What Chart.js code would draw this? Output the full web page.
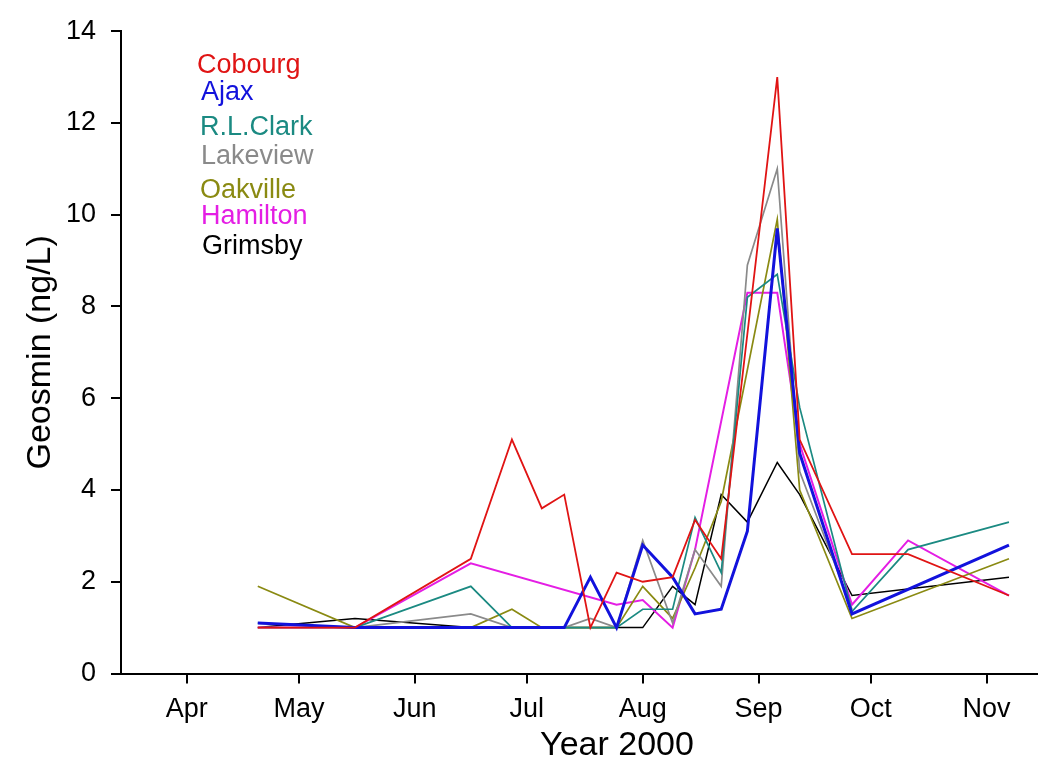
<!DOCTYPE html>
<html>
<head>
<meta charset="utf-8">
<script src="https://cdn.jsdelivr.net/npm/chart.js@4.4.1/dist/chart.umd.min.js"></script>
<style>
  html, body { margin: 0; padding: 0; background: #ffffff; }
  #wrap { width: 1051px; height: 765px; }
</style>
</head>
<body>
<div id="wrap"><canvas id="chart" width="1051" height="765"></canvas></div>
<script>
// Sampling dates (year 2000)
const sampleDates = [
  '2000-04-20', '2000-05-16', '2000-06-16', '2000-06-27', '2000-07-05', '2000-07-11',
  '2000-07-18', '2000-07-25', '2000-08-01', '2000-08-09', '2000-08-15', '2000-08-22',
  '2000-08-29', '2000-09-06', '2000-09-12', '2000-09-26', '2000-10-11', '2000-11-07'
];

// Month tick marks and their labels
const monthTickDates = ['2000-04-01', '2000-05-01', '2000-06-01', '2000-07-01',
                        '2000-08-01', '2000-09-01', '2000-10-01', '2000-11-01'];
const monthTickLabels = ['Apr', 'May', 'Jun', 'Jul', 'Aug', 'Sep', 'Oct', 'Nov'];

// Geosmin (ng/L) per treatment plant; null = not sampled on that date
const cobourg  = [1.0, 1.0, 2.5, 5.1, 3.6, 3.9, 1.0, 2.2, 2.0, 2.1, 3.35, 2.5, null, 13.0, 5.1, 2.6, 2.6, 1.7];
const ajax     = [1.1, 1.0, 1.0, 1.0, 1.0, 1.0, 2.1, 1.0, 2.8, 2.1, 1.3, 1.4, 3.1, 9.7, 4.8, 1.3, null, 2.8];
const rlClark  = [1.1, 1.0, 1.9, 1.0, 1.0, 1.0, 1.0, 1.0, 1.4, 1.4, 3.4, 2.2, 8.2, 8.7, 5.8, 1.35, 2.7, 3.3];
const lakeview = [1.0, 1.0, 1.3, 1.0, 1.0, 1.0, 1.2, 1.0, 2.9, 1.1, 2.7, 1.9, 8.9, 11.0, 4.4, 1.4, null, null];
const oakville = [1.9, 1.0, 1.0, 1.4, 1.0, 1.0, 1.0, 1.0, 1.9, 1.2, 2.3, 3.75, null, 9.9, 4.0, 1.2, null, 2.5];
const hamilton = [1.0, 1.0, 2.4, null, null, null, null, 1.5, 1.6, 1.0, 2.7, null, 8.3, 8.3, 5.0, 1.5, 2.9, 1.7];
const grimsby  = [1.0, 1.2, 1.0, 1.0, 1.0, 1.0, 1.0, 1.0, 1.0, 1.9, 1.5, 3.9, 3.3, 4.6, 3.9, 1.7, null, 2.1];

const siteNames = ['Cobourg', 'Ajax', 'R.L.Clark', 'Lakeview', 'Oakville', 'Hamilton', 'Grimsby'];
const siteValues = [cobourg, ajax, rlClark, lakeview, oakville, hamilton, grimsby];

// Line styling per site
const siteColors = ['#e01414', '#1212dc', '#1b8a82', '#8a8a8a', '#8a8a12', '#e41ee4', '#000000'];
const siteWidths = [1.8, 3, 1.7, 1.7, 1.7, 2, 1.5];

// Day of year (Jan 1 = 1)
function dayOfYear(iso) {
  const [y, m, d] = iso.split('-').map(Number);
  return (Date.UTC(y, m - 1, d) - Date.UTC(y, 0, 1)) / 86400000 + 1;
}

const sampleDays = sampleDates.map(dayOfYear);
const monthTickDays = monthTickDates.map(dayOfYear);
const tickLabelByDay = {};
monthTickDays.forEach((d, i) => { tickLabelByDay[d] = monthTickLabels[i]; });

const datasets = siteNames.map((name, i) => ({
  label: name,
  data: siteValues[i]
    .map((v, j) => (v === null ? null : { x: sampleDays[j], y: v }))
    .filter(p => p !== null),
  borderColor: siteColors[i],
  backgroundColor: siteColors[i],
  borderWidth: siteWidths[i],
  pointRadius: 0,
  tension: 0,
  fill: false
}));

const FONT = "'Liberation Sans', Arial, sans-serif";

// Coloured site names in the upper-left corner
const siteLabelsPlugin = {
  id: 'siteLabels',
  afterDraw(chart, args, opts) {
    const ctx = chart.ctx;
    ctx.save();
    ctx.font = opts.size + 'px ' + FONT;
    ctx.textAlign = 'left';
    ctx.textBaseline = 'alphabetic';
    chart.data.datasets.forEach((ds, i) => {
      ctx.fillStyle = ds.borderColor;
      ctx.fillText(ds.label, opts.x[i], opts.baselines[i]);
    });
    ctx.restore();
  }
};

// X-axis caption
const xCaptionPlugin = {
  id: 'xCaption',
  afterDraw(chart, args, opts) {
    const ctx = chart.ctx;
    ctx.save();
    ctx.font = opts.size + 'px ' + FONT;
    ctx.fillStyle = '#000';
    ctx.textAlign = 'center';
    ctx.textBaseline = 'middle';
    ctx.fillText(opts.text, opts.x, opts.y);
    ctx.restore();
  }
};

new Chart(document.getElementById('chart'), {
  type: 'line',
  data: { datasets },
  plugins: [siteLabelsPlugin, xCaptionPlugin],
  options: {
    responsive: false,
    animation: false,
    devicePixelRatio: 1,
    layout: { padding: { top: 20, right: 14, left: 0, bottom: 0 } },
    plugins: {
      legend: { display: false },
      tooltip: { enabled: false },
      siteLabels: {
        size: 27,
        x: [197, 201, 200, 201, 200, 201, 202],
        baselines: [73, 100, 135, 164, 198, 224, 254]
      },
      xCaption: { text: 'Year 2000', size: 34, x: 617, y: 746 }
    },
    scales: {
      x: {
        type: 'linear',
        min: 74.4,
        max: 319.5,
        afterBuildTicks(scale) {
          scale.ticks = monthTickDays.map(v => ({ value: v }));
        },
        afterFit(scale) { scale.height = 91.5; },
        ticks: {
          autoSkip: false,
          maxRotation: 0,
          color: '#000',
          padding: 10,
          font: { family: FONT, size: 27 },
          callback: (value) => tickLabelByDay[value] || ''
        },
        grid: { drawOnChartArea: false, drawTicks: true, tickLength: 10, color: '#000', lineWidth: 2 },
        border: { display: true, color: '#000', width: 2 }
      },
      y: {
        min: 0,
        max: 14,
        afterFit(scale) { scale.width = 121; },
        ticks: {
          stepSize: 2,
          color: '#000',
          padding: 15,
          font: { family: FONT, size: 27 }
        },
        grid: { drawOnChartArea: false, drawTicks: true, tickLength: 10, color: '#000', lineWidth: 2 },
        border: { display: true, color: '#000', width: 2 },
        title: {
          display: true,
          text: 'Geosmin (ng/L)',
          color: '#000',
          font: { family: FONT, size: 34 },
          padding: { top: 20, bottom: 0 }
        }
      }
    }
  }
});
</script>
</body>
</html>
